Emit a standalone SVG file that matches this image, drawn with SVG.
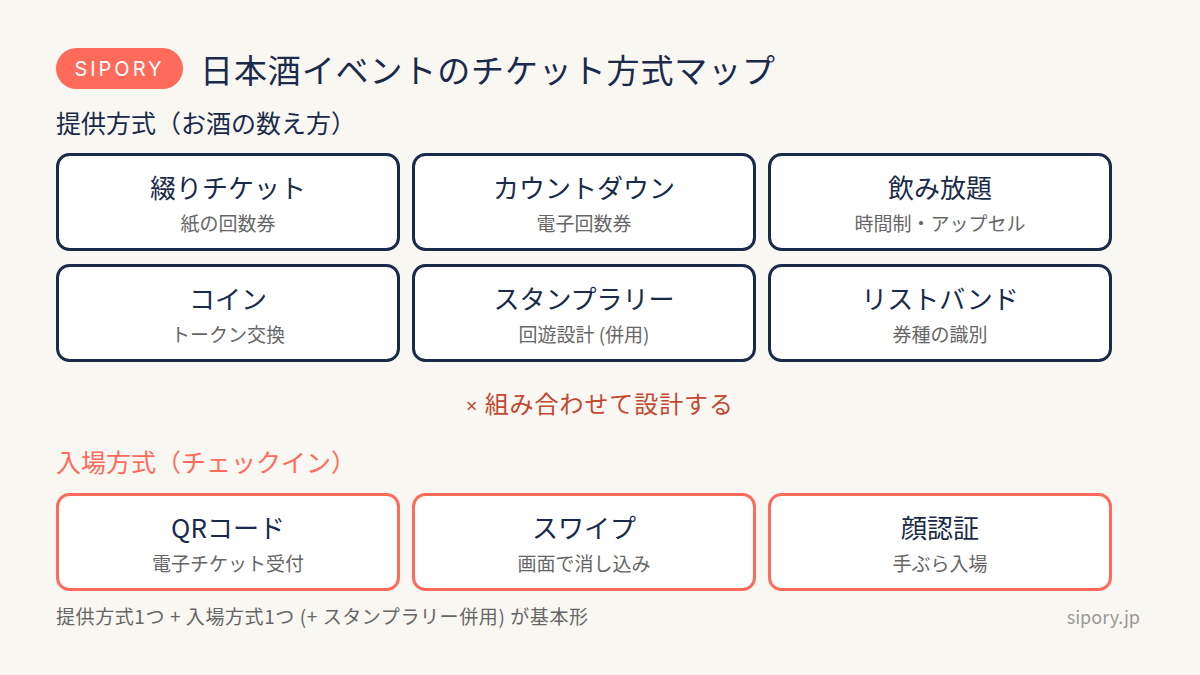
<svg xmlns="http://www.w3.org/2000/svg" width="1200" height="675" viewBox="0 0 1200 675">
<style>
text{font-family:"Noto Sans CJK JP","Noto Sans",sans-serif}
.box{fill:#fff;stroke:#1B2A4A;stroke-width:3}
.box2{fill:#fff;stroke:#FF6B5B;stroke-width:3}
.t{font-size:26px;fill:#1B2A4A;text-anchor:middle}
.s{font-size:19px;fill:#666;text-anchor:middle}
.h{font-size:25px;fill:#1B2A4A}
</style>
<rect width="1200" height="675" fill="#F9F7F2"/>
<g id="header">
<rect x="56" y="48" width="127" height="41" rx="20.5" fill="#FF6B5B"/>
<text x="119.5" y="76" font-size="20" fill="#fff" text-anchor="middle" letter-spacing="3" style="font-family:Inter,'Noto Sans',sans-serif">SIPORY</text>
<text x="200" y="83" font-size="33" fill="#1B2A4A" textLength="575" lengthAdjust="spacing">日本酒イベントのチケット方式マップ</text>
</g>
<text x="56" y="133" class="h" textLength="300" lengthAdjust="spacing">提供方式（お酒の数え方）</text>
<g id="n1"><rect class="box" x="57.5" y="154.5" width="341" height="95" rx="12"/><text class="t" x="228" y="198">綴りチケット</text><text class="s" x="228" y="231">紙の回数券</text></g>
<g id="n2"><rect class="box" x="413.5" y="154.5" width="341" height="95" rx="12"/><text class="t" x="584" y="198">カウントダウン</text><text class="s" x="584" y="231">電子回数券</text></g>
<g id="n3"><rect class="box" x="769.5" y="154.5" width="341" height="95" rx="12"/><text class="t" x="940" y="198">飲み放題</text><text class="s" x="940" y="231">時間制・アップセル</text></g>
<g id="n4"><rect class="box" x="57.5" y="265.5" width="341" height="95" rx="12"/><text class="t" x="228" y="309">コイン</text><text class="s" x="228" y="342">トークン交換</text></g>
<g id="n5"><rect class="box" x="413.5" y="265.5" width="341" height="95" rx="12"/><text class="t" x="584" y="309">スタンプラリー</text><text class="s" x="584" y="342">回遊設計 (併用)</text></g>
<g id="n6"><rect class="box" x="769.5" y="265.5" width="341" height="95" rx="12"/><text class="t" x="940" y="309">リストバンド</text><text class="s" x="940" y="342">券種の識別</text></g>
<text x="466" y="413" font-size="24" fill="#C4472F" textLength="267" lengthAdjust="spacing"><tspan style="font-family:'Noto Sans',sans-serif" font-size="20">×</tspan> 組み合わせて設計する</text>
<text x="56" y="472" class="h" style="fill:#FF6B5B" textLength="300" lengthAdjust="spacing">入場方式（チェックイン）</text>
<g id="n7"><rect class="box2" x="57.5" y="494.5" width="341" height="95" rx="12"/><text class="t" x="228" y="538">QRコード</text><text class="s" x="228" y="571">電子チケット受付</text></g>
<g id="n8"><rect class="box2" x="413.5" y="494.5" width="341" height="95" rx="12"/><text class="t" x="584" y="538">スワイプ</text><text class="s" x="584" y="571">画面で消し込み</text></g>
<g id="n9"><rect class="box2" x="769.5" y="494.5" width="341" height="95" rx="12"/><text class="t" x="940" y="538">顔認証</text><text class="s" x="940" y="571">手ぶら入場</text></g>
<g id="connectors"/>
<text x="56" y="624" font-size="19" fill="#666" textLength="532" lengthAdjust="spacing">提供方式1つ + 入場方式1つ (+ スタンプラリー併用) が基本形</text>
<text x="1140" y="624" font-size="18" fill="#999" text-anchor="end">sipory.jp</text>
</svg>
